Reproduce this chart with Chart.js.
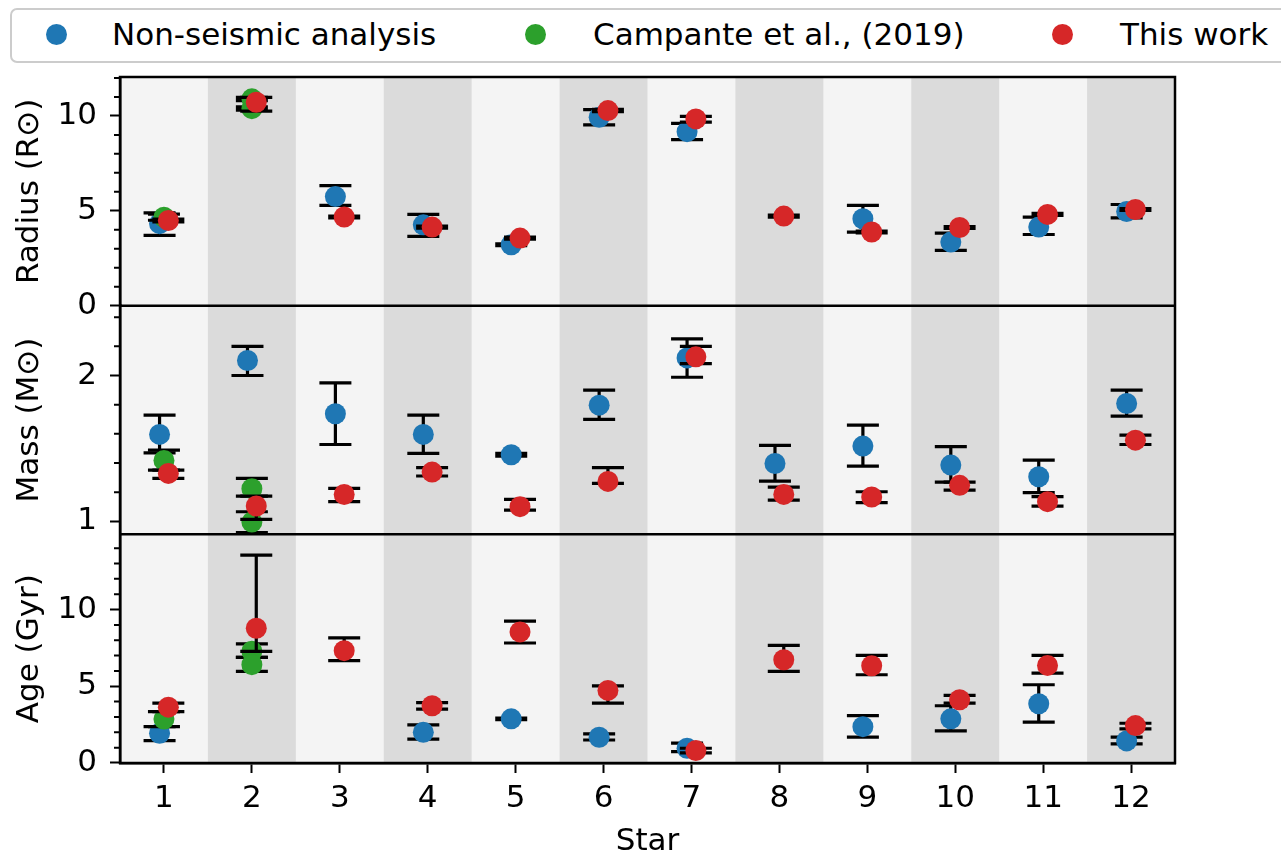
<!DOCTYPE html>
<html>
<head>
<meta charset="utf-8">
<script src="https://cdn.jsdelivr.net/npm/chart.js@4.4.0/dist/chart.umd.min.js"></script>
<style>
  html, body { margin: 0; padding: 0; background: #fff; overflow: hidden; }
  #wrap { position: relative; width: 1281px; height: 856px; }
  #legend {
    position: absolute; left: 10px; top: 8px; width: 1300px; height: 55px;
    border: 2px solid #cccccc; border-radius: 7px; box-sizing: border-box;
    font-family: 'DejaVu Sans', sans-serif; font-size: 31px; color: #000; background: #fff;
  }
  .dot { position: absolute; top: 14px; width: 21px; height: 21px; border-radius: 50%; }
  .lbl { position: absolute; top: 6px; line-height: 36px; white-space: nowrap; }
</style>
</head>
<body>
<div id="wrap">
  <canvas id="chart" width="1281" height="856"></canvas>
  <div id="legend">
    <span class="dot" style="left:34px;background:#1f77b4"></span>
    <span class="lbl" style="left:100px">Non-seismic analysis</span>
    <span class="dot" style="left:513px;background:#2ca02c"></span>
    <span class="lbl" style="left:581px">Campante et al., (2019)</span>
    <span class="dot" style="left:1040px;background:#d62728"></span>
    <span class="lbl" style="left:1108px">This work</span>
  </div>
</div>
<script>
const stars = [1, 2, 3, 4, 5, 6, 7, 8, 9, 10, 11, 12];
const campanteStars = [1, 2, 2];

// radius (R_sun)
const radiusNonSeismic   = [4.32, null, 5.75, 4.26, 3.21, 9.93, 9.17, null, 4.58, 3.35, 4.14, 4.96];
const radiusNonSeismicLo = [3.70, null, 5.28, 3.65, 3.16, 9.53, 8.75, null, 3.88, 2.91, 3.75, 4.63];
const radiusNonSeismicHi = [4.89, null, 6.33, 4.81, 3.26, 10.33, 9.61, null, 5.28, 3.82, 4.67, 5.33];
const radiusCampante     = [4.66, 10.90, 10.38];
const radiusCampanteLo   = [4.50, 10.80, 10.30];
const radiusCampanteHi   = [4.82, 10.98, 10.48];
const radiusThisWork     = [4.49, 10.72, 4.67, 4.14, 3.56, 10.28, 9.84, 4.72, 3.88, 4.12, 4.81, 5.07];
const radiusThisWorkLo   = [4.42, 10.25, 4.62, 4.09, 3.51, 10.22, 9.67, 4.67, 3.83, 4.07, 4.76, 5.02];
const radiusThisWorkHi   = [4.56, 10.98, 4.72, 4.19, 3.61, 10.34, 9.98, 4.77, 3.93, 4.17, 4.86, 5.12];

// mass (M_sun)
const massNonSeismic   = [1.596, 2.103, 1.738, 1.596, 1.457, 1.797, 2.121, 1.397, 1.516, 1.386, 1.306, 1.808];
const massNonSeismicLo = [1.470, 2.000, 1.527, 1.466, 1.447, 1.699, 1.988, 1.276, 1.379, 1.269, 1.197, 1.721];
const massNonSeismicHi = [1.728, 2.200, 1.950, 1.728, 1.467, 1.900, 2.251, 1.521, 1.660, 1.512, 1.420, 1.900];
const massCampante     = [1.418, 1.224, 0.995];
const massCampanteLo   = [1.351, 1.173, 0.923];
const massCampanteHi   = [1.488, 1.295, 1.066];
const massThisWork     = [1.329, 1.105, 1.185, 1.338, 1.101, 1.274, 2.128, 1.185, 1.167, 1.247, 1.135, 1.557];
const massThisWorkLo   = [1.295, 1.014, 1.135, 1.311, 1.077, 1.260, 2.082, 1.146, 1.128, 1.214, 1.105, 1.527];
const massThisWorkHi   = [1.351, 1.173, 1.226, 1.368, 1.151, 1.368, 2.200, 1.235, 1.203, 1.269, 1.169, 1.591];

// age (Gyr)
const ageNonSeismic   = [1.94, null, null, 2.00, 2.88, 1.68, 0.96, null, 2.37, 2.88, 3.86, 1.44];
const ageNonSeismicLo = [1.46, null, null, 1.55, 2.83, 1.50, 0.74, null, 1.68, 2.09, 2.66, 1.24];
const ageNonSeismicHi = [2.37, null, null, 2.48, 2.93, 1.90, 1.29, null, 3.09, 3.73, 5.10, 1.68];
const ageCampante     = [2.86, 7.28, 6.41];
const ageCampanteLo   = [2.37, 6.88, 5.97];
const ageCampanteHi   = [3.35, 7.76, 6.88];
const ageThisWork     = [3.64, 8.78, 7.32, 3.73, 8.54, 4.73, 0.81, 6.73, 6.34, 4.12, 6.36, 2.44];
const ageThisWorkLo   = [3.35, 7.28, 6.67, 3.51, 7.82, 3.90, 0.66, 5.97, 5.75, 3.90, 5.86, 2.22];
const ageThisWorkHi   = [3.90, 13.55, 8.15, 3.94, 9.24, 5.03, 0.96, 7.67, 7.01, 4.40, 7.01, 2.59];

// tick labels
const radiusTicks = [0, 5, 10];
const radiusMinor = [1, 2, 3, 4, 6, 7, 8, 9, 11, 12];
const massTicks = [1, 2];
const massMinor = [1.2, 1.4, 1.6, 1.8, 2.2, 2.4];
const ageTicks = [0, 5, 10];
const ageMinor = [1, 2, 3, 4, 6, 7, 8, 9, 11, 12, 13, 14];

const FONT = "'DejaVu Sans', sans-serif";
const BLUE = '#1f77b4', GREEN = '#2ca02c', RED = '#d62728';

function points(xs, vals, lo, hi, dx) {
  const out = [];
  xs.forEach((s, i) => {
    if (vals[i] === null) return;
    out.push({ x: s + dx, y: vals[i], lo: lo[i], hi: hi[i] });
  });
  return out;
}

function series(label, color, order, axis, data) {
  return {
    label: label, data: data, yAxisID: axis, order: order,
    backgroundColor: color, borderColor: color,
    pointRadius: 10.5, pointHoverRadius: 10.5, pointBorderWidth: 0
  };
}

const datasets = [
  series('Non-seismic analysis', BLUE, 3, 'yR', points(stars, radiusNonSeismic, radiusNonSeismicLo, radiusNonSeismicHi, -0.05)),
  series('Campante et al., (2019)', GREEN, 2, 'yR', points(campanteStars, radiusCampante, radiusCampanteLo, radiusCampanteHi, 0)),
  series('This work', RED, 1, 'yR', points(stars, radiusThisWork, radiusThisWorkLo, radiusThisWorkHi, 0.05)),
  series('Non-seismic analysis', BLUE, 3, 'yM', points(stars, massNonSeismic, massNonSeismicLo, massNonSeismicHi, -0.05)),
  series('Campante et al., (2019)', GREEN, 2, 'yM', points(campanteStars, massCampante, massCampanteLo, massCampanteHi, 0)),
  series('This work', RED, 1, 'yM', points(stars, massThisWork, massThisWorkLo, massThisWorkHi, 0.05)),
  series('Non-seismic analysis', BLUE, 3, 'yA', points(stars, ageNonSeismic, ageNonSeismicLo, ageNonSeismicHi, -0.05)),
  series('Campante et al., (2019)', GREEN, 2, 'yA', points(campanteStars, ageCampante, ageCampanteLo, ageCampanteHi, 0)),
  series('This work', RED, 1, 'yA', points(stars, ageThisWork, ageThisWorkLo, ageThisWorkHi, 0.05))
];

function panelAxis(title, ticks, min, max, weight) {
  return {
    type: 'linear', position: 'left', stack: 'panels', stackWeight: 1, weight: weight,
    min: min, max: max, offset: false,
    afterBuildTicks: s => { s.ticks = ticks.map(v => ({ value: v })); },
    afterFit: s => { s.width = 120; },
    title: { display: true, text: title, color: '#000', font: { family: FONT, size: 31 }, padding: { top: 11, bottom: 0 } },
    ticks: { color: '#000', font: { family: FONT, size: 31 }, padding: 13, autoSkip: false },
    grid: { drawOnChartArea: false, drawTicks: true, tickLength: 10, tickColor: '#000', tickWidth: 2 },
    border: { display: true, color: '#000', width: 2.5 }
  };
}

const minorTicks = { yR: radiusMinor, yM: massMinor, yA: ageMinor };

// shaded bands behind the points
const bandsPlugin = {
  id: 'bands',
  beforeDraw(chart) {
    const { ctx, chartArea: a, scales } = chart;
    ctx.save();
    ctx.fillStyle = '#f4f4f4';
    ctx.fillRect(a.left, a.top, a.right - a.left, a.bottom - a.top);
    ctx.fillStyle = '#dbdbdb';
    stars.forEach(s => {
      if (s % 2 !== 0) return;
      const x0 = scales.x.getPixelForValue(s - 0.5);
      const x1 = scales.x.getPixelForValue(s + 0.5);
      ctx.fillRect(x0, a.top, x1 - x0, a.bottom - a.top);
    });
    ctx.restore();
  }
};

// error bars, drawn just before each dataset
const errorBarPlugin = {
  id: 'errorBars',
  beforeDatasetDraw(chart, args) {
    const ds = chart.data.datasets[args.index];
    const yScale = chart.scales[ds.yAxisID];
    const ctx = chart.ctx;
    ctx.save();
    ctx.strokeStyle = '#000';
    ctx.lineWidth = 3.2;
    args.meta.data.forEach((el, i) => {
      const d = ds.data[i];
      const yLo = yScale.getPixelForValue(d.lo);
      const yHi = yScale.getPixelForValue(d.hi);
      ctx.beginPath();
      ctx.moveTo(el.x, yLo); ctx.lineTo(el.x, yHi);
      ctx.moveTo(el.x - 16, yLo); ctx.lineTo(el.x + 16, yLo);
      ctx.moveTo(el.x - 16, yHi); ctx.lineTo(el.x + 16, yHi);
      ctx.stroke();
    });
    ctx.restore();
  }
};

// frame, panel separators and minor ticks
const framePlugin = {
  id: 'frame',
  afterDatasetsDraw(chart) {
    const { ctx, chartArea: a, scales } = chart;
    ctx.save();
    ctx.strokeStyle = '#000';
    ctx.lineWidth = 2.5;
    ctx.strokeRect(a.left, a.top, a.right - a.left, a.bottom - a.top);
    ctx.beginPath();
    ['yM', 'yA'].forEach(id => {
      ctx.moveTo(a.left, scales[id].top);
      ctx.lineTo(a.right, scales[id].top);
    });
    ctx.stroke();
    ctx.lineWidth = 2;
    ctx.beginPath();
    Object.keys(minorTicks).forEach(id => {
      const sc = scales[id];
      minorTicks[id].forEach(v => {
        const y = sc.getPixelForValue(v);
        ctx.moveTo(a.left - 6, y);
        ctx.lineTo(a.left, y);
      });
    });
    ctx.stroke();
    ctx.restore();
  }
};

Chart.defaults.font.family = FONT;

new Chart(document.getElementById('chart'), {
  type: 'scatter',
  data: { datasets: datasets },
  options: {
    responsive: false,
    animation: false,
    events: [],
    layout: { padding: { left: 0, top: 77, right: 106, bottom: 0 } },
    plugins: { legend: { display: false }, tooltip: { enabled: false } },
    scales: {
      x: {
        type: 'linear', min: 0.5, max: 12.5,
        afterBuildTicks: s => { s.ticks = stars.map(v => ({ value: v })); },
        afterFit: s => { s.height = 93; },
        title: { display: true, text: 'Star', color: '#000', font: { family: FONT, size: 31 }, padding: { top: 0, bottom: -5 } },
        ticks: { color: '#000', font: { family: FONT, size: 31 }, padding: 7, autoSkip: false, maxRotation: 0 },
        grid: { drawOnChartArea: false, drawTicks: true, tickLength: 10, tickColor: '#000', tickWidth: 2 },
        border: { display: true, color: '#000', width: 2.5 }
      },
      yR: panelAxis('Radius (R\u2299)', radiusTicks, 0, 12.05, 3),
      yM: panelAxis('Mass (M\u2299)', massTicks, 0.911, 2.479, 2),
      yA: panelAxis('Age (Gyr)', ageTicks, 0, 14.9, 1)
    }
  },
  plugins: [bandsPlugin, errorBarPlugin, framePlugin]
});
</script>
</body>
</html>
